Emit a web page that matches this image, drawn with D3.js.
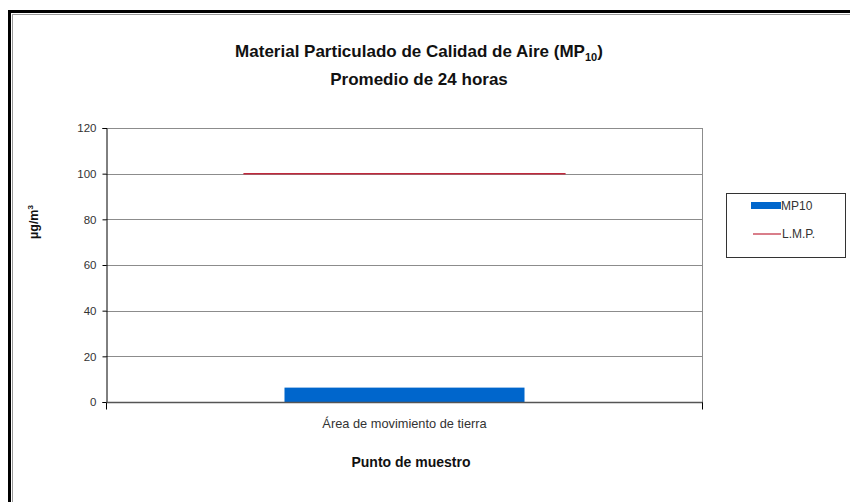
<!DOCTYPE html>
<html>
<head>
<meta charset="utf-8">
<script src="https://cdn.jsdelivr.net/npm/d3@7"></script>
<style>
  body { margin: 0; background: #fff; }
  text { font-family: "Liberation Sans", Arial, sans-serif; }
</style>
</head>
<body>
<div id="chart"></div>
<script>
// chart data
var categories = ["Área de movimiento de tierra"];
var mp10 = [6.3];
var lmp = [100];
var yTicks = [0, 20, 40, 60, 80, 100, 120];

var width = 850, height = 502;
var margin = { left: 106, right: 147, top: 128, bottom: 100 };

var svg = d3.select("#chart").append("svg")
  .attr("width", width)
  .attr("height", height);

// outer frame
svg.append("rect")
  .attr("x", 9.5).attr("y", 11.5)
  .attr("width", 860).attr("height", 520)
  .attr("fill", "#fff")
  .attr("stroke", "#000").attr("stroke-width", 3);
svg.append("rect")
  .attr("x", 12.5).attr("y", 14.5)
  .attr("width", 860).attr("height", 520)
  .attr("fill", "none")
  .attr("stroke", "#9a9a9a").attr("stroke-width", 1);

var x = d3.scaleBand()
  .domain(categories)
  .range([margin.left, width - margin.right])
  .padding(0.4265);

var xLine = d3.scaleBand()
  .domain(categories)
  .range([margin.left, width - margin.right])
  .padding(0.299);

var y = d3.scaleLinear()
  .domain([0, 120])
  .range([height - margin.bottom, margin.top]);

var plotW = width - margin.right - margin.left;

// gridlines
svg.append("g")
  .selectAll("line")
  .data(yTicks.filter(function(d) { return d > 0; }))
  .enter()
  .append("line")
  .attr("x1", margin.left).attr("x2", margin.left + plotW)
  .attr("y1", function(d) { return Math.round(y(d)) + 0.5; })
  .attr("y2", function(d) { return Math.round(y(d)) + 0.5; })
  .attr("stroke", "#8c8c8c");

// right border of plot area
svg.append("line")
  .attr("x1", margin.left + plotW - 0.5).attr("x2", margin.left + plotW - 0.5)
  .attr("y1", y(120)).attr("y2", y(0))
  .attr("stroke", "#8c8c8c");

// bars
svg.selectAll("rect.bar")
  .data(mp10)
  .enter()
  .append("rect")
  .attr("class", "bar")
  .attr("x", function(d, i) { return x(categories[i]); })
  .attr("width", x.bandwidth())
  .attr("y", function(d) { return y(d); })
  .attr("height", function(d) { return y(0) - y(d); })
  .attr("fill", "#0066cc");

// L.M.P. line
svg.selectAll("line.lmp")
  .data(lmp)
  .enter()
  .append("line")
  .attr("class", "lmp")
  .attr("x1", function(d, i) { return xLine(categories[i]); })
  .attr("x2", function(d, i) { return xLine(categories[i]) + xLine.bandwidth(); })
  .attr("y1", function(d) { return y(d); })
  .attr("y2", function(d) { return y(d); })
  .attr("stroke", "#c0283c")
  .attr("stroke-width", 1.5);

// y axis
var yAxis = svg.append("g")
  .attr("transform", "translate(" + (margin.left + 0.5) + ",0)")
  .call(d3.axisLeft(y).tickValues(yTicks).tickSize(4).tickPadding(6));
yAxis.select(".domain").attr("stroke", "#000");
yAxis.selectAll(".tick line").attr("stroke", "#000");
yAxis.selectAll(".tick text")
  .style("font-size", "11.5px")
  .style("font-family", "Liberation Sans, Arial, sans-serif")
  .attr("fill", "#333");

// x axis
var xAxis = svg.append("g")
  .attr("transform", "translate(0," + (y(0) + 0.5) + ")");
xAxis.append("line")
  .attr("x1", margin.left).attr("x2", margin.left + plotW)
  .attr("stroke", "#555").attr("stroke-width", 1.5);
xAxis.selectAll("line.xt")
  .data([margin.left + 0.5, margin.left + plotW - 0.5])
  .enter()
  .append("line")
  .attr("class", "xt")
  .attr("x1", function(d) { return d; }).attr("x2", function(d) { return d; })
  .attr("y1", 0).attr("y2", 7)
  .attr("stroke", "#000");
xAxis.selectAll("text")
  .data(categories)
  .enter()
  .append("text")
  .attr("x", function(d) { return x(d) + x.bandwidth() / 2; })
  .attr("y", 25)
  .attr("text-anchor", "middle")
  .style("font-size", "12.8px")
  .attr("fill", "#333")
  .text(function(d) { return d; });

// titles
var title = svg.append("text")
  .attr("x", 419).attr("y", 57)
  .attr("text-anchor", "middle")
  .style("font-family", "'Liberation Sans Narrow', 'Arial Narrow', sans-serif")
  .style("font-size", "17px")
  .style("font-weight", "bold")
  .attr("fill", "#111");
title.append("tspan").text("Material Particulado de Calidad de Aire (MP");
title.append("tspan").attr("dy", 4).style("font-size", "11px").text("10");
title.append("tspan").attr("dy", -4).text(")");

svg.append("text")
  .attr("x", 419).attr("y", 85)
  .attr("text-anchor", "middle")
  .style("font-family", "'Liberation Sans Narrow', 'Arial Narrow', sans-serif")
  .style("font-size", "17px")
  .style("font-weight", "bold")
  .attr("fill", "#111")
  .text("Promedio de 24 horas");

svg.append("text")
  .attr("x", 411).attr("y", 467)
  .attr("text-anchor", "middle")
  .style("font-size", "14px")
  .style("font-weight", "bold")
  .attr("fill", "#111")
  .text("Punto de muestro");

var yTitle = svg.append("text")
  .attr("transform", "translate(38,222) rotate(-90)")
  .attr("text-anchor", "middle")
  .style("font-size", "12.5px")
  .style("font-weight", "bold")
  .attr("fill", "#111");
yTitle.append("tspan").text("µg/m");
yTitle.append("tspan").attr("dy", -5).style("font-size", "8px").text("3");

// legend
var legend = svg.append("g").attr("transform", "translate(726,193)");
legend.append("rect")
  .attr("x", 0.5).attr("y", 0.5)
  .attr("width", 119).attr("height", 64)
  .attr("fill", "#fff").attr("stroke", "#333");
legend.append("rect")
  .attr("x", 25).attr("y", 9)
  .attr("width", 30).attr("height", 7)
  .attr("fill", "#0066cc");
legend.append("text")
  .attr("x", 55).attr("y", 17)
  .style("font-size", "12px")
  .attr("fill", "#333")
  .text("MP10");
legend.append("line")
  .attr("x1", 27).attr("x2", 55)
  .attr("y1", 41).attr("y2", 41)
  .attr("stroke", "#c0283c").attr("stroke-width", 1.2);
legend.append("text")
  .attr("x", 56).attr("y", 45)
  .style("font-size", "12px")
  .attr("fill", "#333")
  .text("L.M.P.");
</script>
</body>
</html>
